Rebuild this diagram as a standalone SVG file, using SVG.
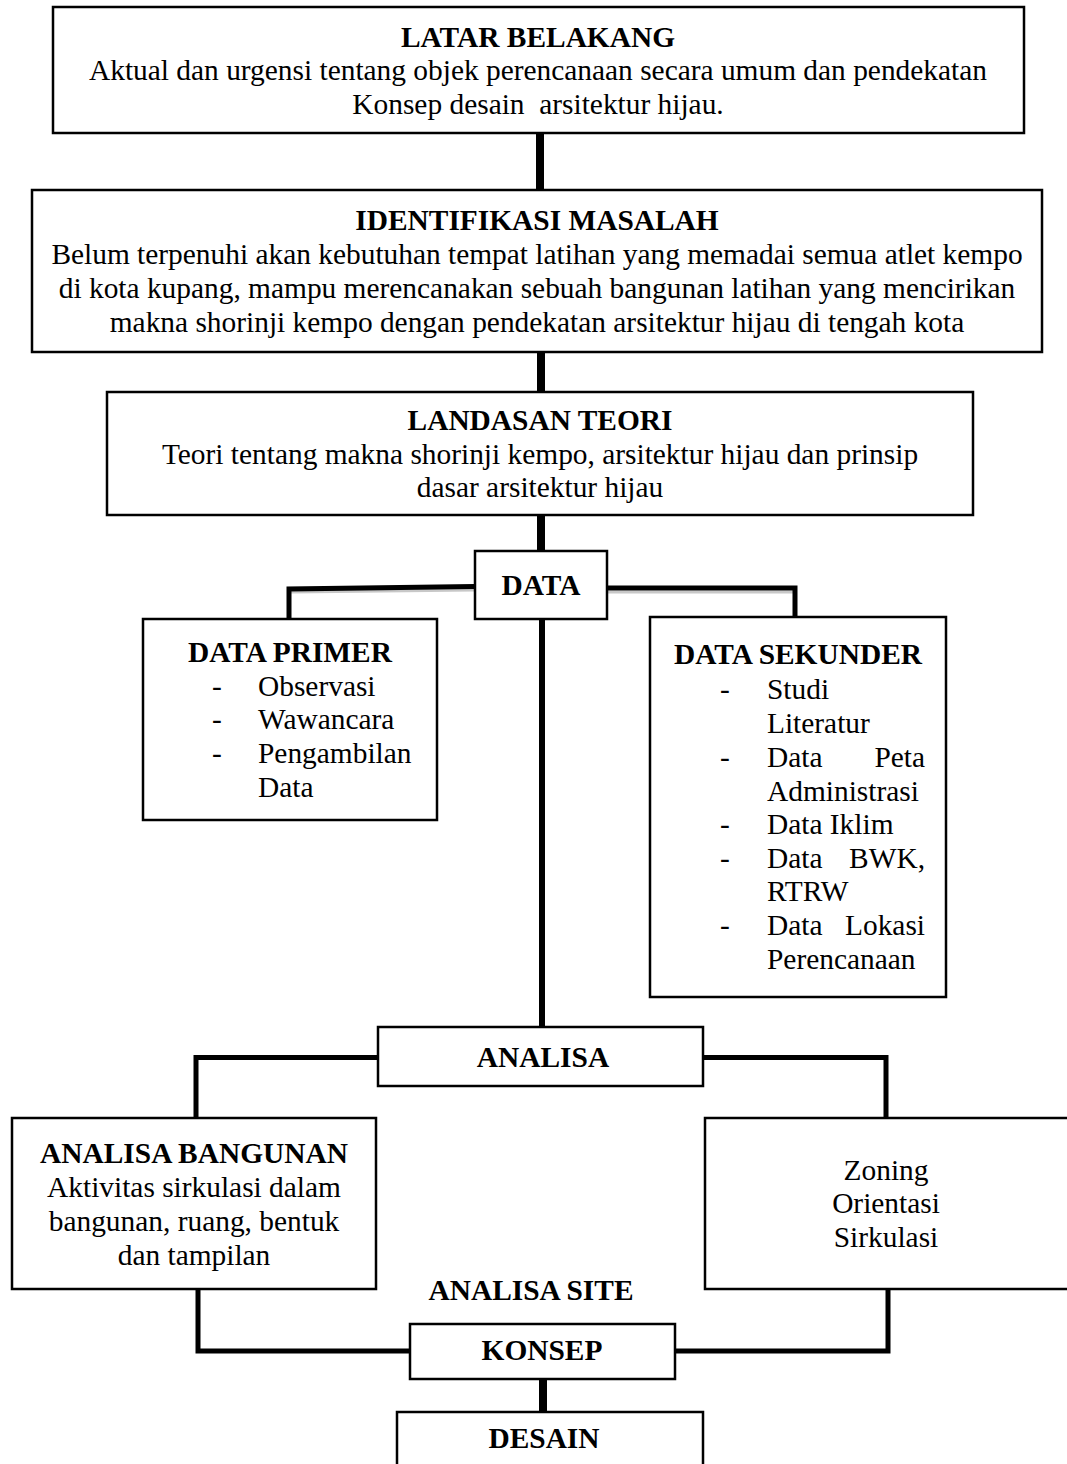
<svg xmlns="http://www.w3.org/2000/svg" width="1067" height="1464" viewBox="0 0 1067 1464">
<style>
.box{fill:#fff;stroke:#000;stroke-width:2.5}
.t{font-family:"Liberation Serif","Times New Roman",serif;font-size:29.4px;fill:#000}
.b{font-weight:bold}
.c{text-anchor:middle}
.e{text-anchor:end}
.ln{fill:none;stroke:#000;stroke-linecap:butt;stroke-linejoin:miter}
.sh{fill:none;stroke:#c8c8c8;stroke-width:3}
</style>
<rect width="1067" height="1464" fill="#fff"/>
<g id="connectors">
<line class="ln" x1="540" y1="133" x2="540" y2="190" stroke-width="8"/>
<line class="ln" x1="541" y1="352" x2="541" y2="392" stroke-width="8"/>
<line class="ln" x1="541" y1="515" x2="541" y2="551" stroke-width="8"/>
<polyline class="sh" points="291,592 475,590"/>
<polyline class="sh" points="607,592 795,592"/>
<polyline class="ln" points="475,586.5 289,589 289,619" stroke-width="5"/>
<polyline class="ln" points="607,588 795,588 795,617" stroke-width="5"/>
<line class="ln" x1="542" y1="619" x2="542" y2="1027" stroke-width="6"/>
<polyline class="ln" points="378,1057.5 196,1057.5 196,1118" stroke-width="5"/>
<polyline class="ln" points="703,1057.5 886,1057.5 886,1118" stroke-width="5"/>
<polyline class="ln" points="198,1289 198,1351 410,1351" stroke-width="5"/>
<polyline class="ln" points="888,1289 888,1351 675,1351" stroke-width="5"/>
<line class="ln" x1="543" y1="1379" x2="543" y2="1412" stroke-width="8"/>
</g>
<g id="latar-belakang">
<rect class="box" x="53" y="7" width="971" height="126"/>
<text class="t b c" x="538" y="47">LATAR BELAKANG</text>
<text class="t c" x="538" y="80">Aktual dan urgensi tentang objek perencanaan secara umum dan pendekatan</text>
<text class="t c" x="538" y="114" xml:space="preserve">Konsep desain  arsitektur hijau.</text>
</g>
<g id="identifikasi-masalah">
<rect class="box" x="32" y="190" width="1010" height="162"/>
<text class="t b c" x="537" y="230">IDENTIFIKASI MASALAH</text>
<text class="t c" x="537" y="264">Belum terpenuhi akan kebutuhan tempat latihan yang memadai semua atlet kempo</text>
<text class="t c" x="537" y="298">di kota kupang, mampu merencanakan sebuah bangunan latihan yang mencirikan</text>
<text class="t c" x="537" y="332">makna shorinji kempo dengan pendekatan arsitektur hijau di tengah kota</text>
</g>
<g id="landasan-teori">
<rect class="box" x="107" y="392" width="866" height="123"/>
<text class="t b c" x="540" y="430">LANDASAN TEORI</text>
<text class="t c" x="540" y="464">Teori tentang makna shorinji kempo, arsitektur hijau dan prinsip</text>
<text class="t c" x="540" y="497">dasar arsitektur hijau</text>
</g>
<g id="data">
<rect class="box" x="475" y="551" width="132" height="68"/>
<text class="t b c" x="541" y="595">DATA</text>
</g>
<g id="data-primer">
<rect class="box" x="143" y="619" width="294" height="201"/>
<text class="t b c" x="290" y="662">DATA PRIMER</text>
<text class="t" x="212" y="696">-</text><text class="t" x="258" y="696">Observasi</text>
<text class="t" x="212" y="729">-</text><text class="t" x="258" y="729">Wawancara</text>
<text class="t" x="212" y="763">-</text><text class="t" x="258" y="763">Pengambilan</text>
<text class="t" x="258" y="797">Data</text>
</g>
<g id="data-sekunder">
<rect class="box" x="650" y="617" width="296" height="380"/>
<text class="t b c" x="798" y="664">DATA SEKUNDER</text>
<text class="t" x="720" y="699">-</text><text class="t" x="767" y="699">Studi</text>
<text class="t" x="767" y="733">Literatur</text>
<text class="t" x="720" y="767">-</text><text class="t" x="767" y="767">Data</text><text class="t e" x="925" y="767">Peta</text>
<text class="t" x="767" y="801">Administrasi</text>
<text class="t" x="720" y="834">-</text><text class="t" x="767" y="834">Data Iklim</text>
<text class="t" x="720" y="868">-</text><text class="t" x="767" y="868">Data</text><text class="t e" x="925" y="868">BWK,</text>
<text class="t" x="767" y="901">RTRW</text>
<text class="t" x="720" y="935">-</text><text class="t" x="767" y="935">Data</text><text class="t e" x="925" y="935">Lokasi</text>
<text class="t" x="767" y="969">Perencanaan</text>
</g>
<g id="analisa">
<rect class="box" x="378" y="1027" width="325" height="59"/>
<text class="t b c" x="543" y="1067">ANALISA</text>
</g>
<g id="analisa-bangunan">
<rect class="box" x="12" y="1118" width="364" height="171"/>
<text class="t b c" x="194" y="1163">ANALISA BANGUNAN</text>
<text class="t c" x="194" y="1197">Aktivitas sirkulasi dalam</text>
<text class="t c" x="194" y="1231">bangunan, ruang, bentuk</text>
<text class="t c" x="194" y="1265">dan tampilan</text>
</g>
<g id="analisa-site">
<rect class="box" x="705" y="1118" width="380" height="171"/>
<text class="t c" x="886" y="1180">Zoning</text>
<text class="t c" x="886" y="1213">Orientasi</text>
<text class="t c" x="886" y="1247">Sirkulasi</text>
<text class="t b c" x="531" y="1300">ANALISA SITE</text>
</g>
<g id="konsep">
<rect class="box" x="410" y="1324" width="265" height="55"/>
<text class="t b c" x="542" y="1360">KONSEP</text>
</g>
<g id="desain">
<rect class="box" x="397" y="1412" width="306" height="70"/>
<text class="t b c" x="544" y="1448">DESAIN</text>
</g>
</svg>
